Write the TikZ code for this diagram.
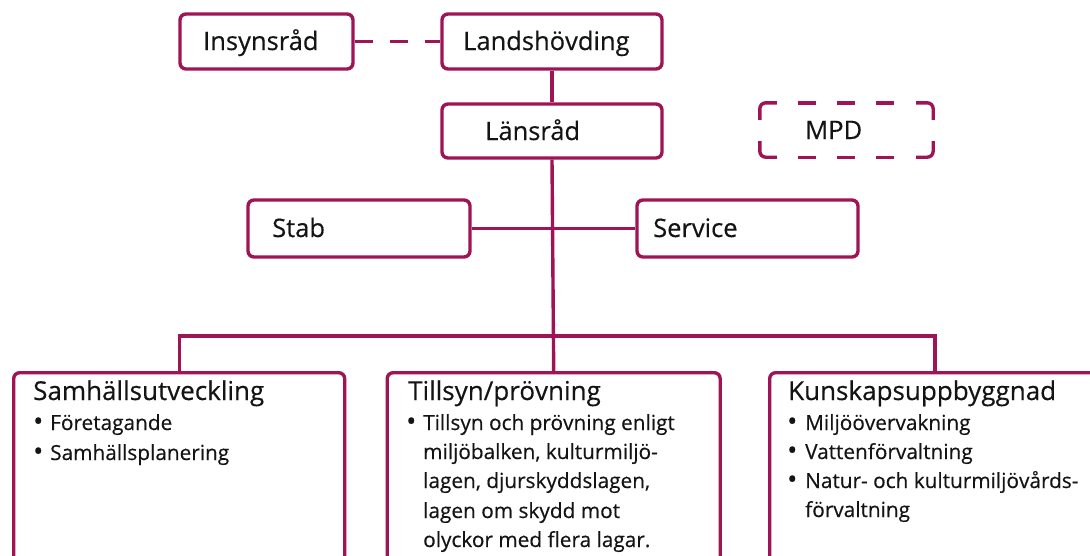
\documentclass[tikz,border=0pt]{standalone}
\usepackage{fontspec}
\setmainfont{Open Sans}[FakeBold=0.4]
\usetikzlibrary{calc}
\definecolor{mag}{RGB}{158,20,84}
\definecolor{ink}{RGB}{20,20,20}
\newcommand{\bulmark}{\raisebox{-0.5pt}{\fontsize{27}{29}\selectfont •}}
\begin{document}
\begin{tikzpicture}[x=1pt,y=-1pt,
  box/.style={draw=mag,line width=3.4pt,rounded corners=6pt,inner sep=0pt,rectangle},
  conn/.style={draw=mag,line width=3.4pt},
  lbl/.style={anchor=base west,inner sep=0pt,text=ink,font=\fontsize{25.5}{30}\selectfont},
  ttl/.style={anchor=base west,inner sep=0pt,text=ink,font=\fontsize{26}{30}\selectfont},
  itm/.style={anchor=base west,inner sep=0pt,text=ink,font=\fontsize{20.8}{29}\selectfont},
]
\useasboundingbox (0,0) rectangle (1090,555);
\clip (0,0) rectangle (1090,555);
% boxes
\node[box,minimum width=173pt,minimum height=55pt] (ins) at (266.5,41.5) {};
\node[box,minimum width=220pt,minimum height=55pt] (land) at (552,41.5) {};
\node[box,minimum width=220pt,minimum height=54pt] (lans) at (552,131) {};
\node[inner sep=0pt,minimum width=173pt,minimum height=54pt] (mpd) at (846.5,130) {};
\node[box,minimum width=222pt,minimum height=57pt] (stab) at (359,228.5) {};
\node[box,minimum width=221pt,minimum height=57pt] (serv) at (747.5,228.5) {};
\node[box,minimum width=331pt,minimum height=240pt,anchor=north west] (sam) at (12,371) {};
\node[box,minimum width=333pt,minimum height=240pt,anchor=north west] (till) at (385.5,371) {};
\node[box,minimum width=360pt,minimum height=240pt,anchor=north west] (kun) at (768,371) {};
% MPD dashed outline
\draw[conn,rounded corners=6pt] ($(mpd.north west)+(0,17)$) -- (mpd.north west) -- ($(mpd.north west)+(17,0)$);
\draw[conn,rounded corners=6pt] ($(mpd.south west)+(0,-16)$) -- (mpd.south west) -- ($(mpd.south west)+(17,0)$);
\draw[conn,rounded corners=6pt] ($(mpd.north east)+(0,17)$) -- (mpd.north east) -- ($(mpd.north east)+(-17,0)$);
\draw[conn,rounded corners=6pt] ($(mpd.south east)+(0,-16)$) -- (mpd.south east) -- ($(mpd.south east)+(-17,0)$);
\foreach \a in {38,77,116}{
  \draw[conn] ($(mpd.north west)+(\a,0)$) -- ($(mpd.north west)+(\a+18,0)$);
  \draw[conn] ($(mpd.south west)+(\a,0)$) -- ($(mpd.south west)+(\a+18,0)$);
}
% connectors
\draw[conn,dash pattern=on 18pt off 17pt] (ins.east) -- (land.west);
\draw[conn] (land.south) -- (lans.north);
\draw[conn] (lans.south) -- (till.north);
\draw[conn] (stab.east) -- (serv.west);
\coordinate (bus) at (552,336);
\coordinate (kdrop) at (935,371);
\draw[conn] (sam.north) |- (bus) -| (kdrop);
% labels
\node[lbl] (tins) at (203,50) {Insynsråd};
\node[lbl] (tland) at (463,50) {Landshövding};
\node[lbl] (tlans) at (485,140) {Länsråd};
\node[lbl] (tmpd) at (805,139) {MPD};
\node[lbl] (tstab) at (272,237) {Stab};
\node[lbl] (tserv) at (653,237) {Service};
% titles
\node[ttl] (tsam) at (33,400) {Samhällsutveckling};
\node[ttl] (ttill) at (408,400) {Tillsyn/prövning};
\node[ttl] (tkun) at (788,400) {Kunskapsuppbyggnad};
% items
\node[itm] (s1) at (33,430) {\makebox[17pt][l]{\bulmark}Företagande};
\node[itm] (s2) at (33,460) {\makebox[17pt][l]{\bulmark}Samhällsplanering};
\node[itm] (t1) at (406,430) {\makebox[17pt][l]{\bulmark}Tillsyn och prövning enligt};
\node[itm] (t2) at (423,459) {miljöbalken, kulturmiljö-};
\node[itm] (t3) at (423,488) {lagen, djurskyddslagen,};
\node[itm] (t4) at (423,518) {lagen om skydd mot};
\node[itm] (t5) at (423,547) {olyckor med flera lagar.};
\node[itm] (k1) at (787,430) {\makebox[18pt][l]{\bulmark}Miljöövervakning};
\node[itm] (k2) at (787,459) {\makebox[18pt][l]{\bulmark}Vattenförvaltning};
\node[itm] (k3) at (787,488) {\makebox[18pt][l]{\bulmark}Natur- och kulturmiljövårds-};
\node[itm] (k4) at (805,517) {förvaltning};
\end{tikzpicture}
\end{document}
